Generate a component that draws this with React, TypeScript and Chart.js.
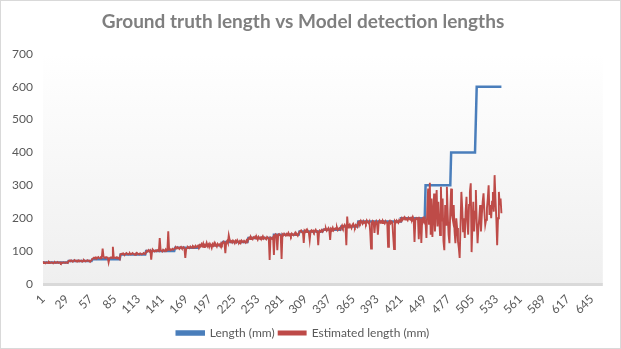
import React, { useEffect, useRef } from 'react';
import { Chart, registerables } from 'chart.js';

Chart.register(...registerables);

const chartTitle = 'Ground truth length vs Model detection lengths';
const seriesNames = ['Length (mm)', 'Estimated length (mm)'];

// Category axis: sample numbers 1..658
const categoryCount = 658;
const categories = Array.from({ length: categoryCount }, (_, i) => String(i + 1));
const xTickLabels = ['1', '29', '57', '85', '113', '141', '169', '197', '225', '253', '281', '309', '337', '365', '393', '421', '449', '477', '505', '533', '561', '589', '617', '645'];
const yTickValues = [0, 100, 200, 300, 400, 500, 600, 700];

// Ground-truth length: a step series, stored as (level, number of samples at that level)
const lengthLevels = [65, 70, 75, 90, 100, 110, 118, 128, 140, 150, 160, 165, 175, 190, 200, 300, 400, 600];
const lengthRunCounts = [30, 28, 33, 30, 34, 29, 27, 30, 30, 30, 28, 21, 20, 50, 29, 30, 30, 30];

// Estimated length per sample
const estimatedLength = [
  // 1-30
  64, 66, 65, 63, 66, 65, 64, 67, 65, 64, 66, 65, 63, 65, 66, 64, 65, 67, 64, 65, 66, 63, 65, 64, 66, 65, 64, 66, 65, 64,
  // 31-58
  70, 71, 69, 72, 70, 68, 71, 73, 70, 69, 71, 70, 72, 69, 70, 71, 68, 70, 73, 71, 69, 70, 72, 70, 71, 69, 70, 72,
  // 59-91
  76, 78, 80, 79, 81, 77, 80, 82, 79, 78, 81, 80, 108, 84, 80, 79, 82, 81, 80, 66, 78, 80, 81, 79, 113, 82, 80, 79, 81, 78, 80, 79, 76,
  // 92-121
  90, 92, 91, 93, 90, 89, 92, 94, 91, 90, 92, 93, 90, 91, 94, 92, 90, 89, 93, 95, 92, 91, 90, 93, 92, 90, 91, 94, 92, 91,
  // 122-155
  98, 101, 100, 103, 99, 102, 74, 100, 104, 101, 99, 102, 100, 103, 101, 100, 140, 103, 101, 99, 104, 102, 100, 105, 101, 103, 160, 104, 106, 103, 105, 107, 104, 106,
  // 156-184
  109, 111, 108, 112, 110, 107, 111, 113, 109, 110, 112, 108, 79, 106, 110, 113, 111, 109, 114, 112, 110, 115, 113, 111, 116, 112, 114, 117, 113,
  // 185-211
  118, 114, 121, 116, 123, 112, 119, 117, 125, 115, 120, 113, 122, 118, 110, 121, 117, 124, 116, 119, 114, 122, 118, 120, 115, 123, 119,
  // 212-241
  126, 129, 124, 94, 127, 131, 125, 148, 135, 128, 130, 126, 132, 129, 124, 131, 127, 133, 128, 126, 130, 125, 132, 129, 127, 131, 128, 126, 133, 129,
  // 242-271
  138, 141, 137, 143, 139, 136, 142, 140, 144, 138, 141, 135, 143, 139, 137, 142, 140, 145, 138, 141, 139, 136, 143, 140, 138, 73, 141, 139, 137, 142,
  // 272-301
  88, 148, 151, 147, 103, 150, 152, 149, 146, 76, 151, 148, 153, 150, 147, 152, 149, 155, 148, 151, 146, 153, 150, 148, 152, 156, 149, 151, 147, 153,
  // 302-329
  158, 161, 163, 157, 160, 125, 162, 159, 164, 158, 161, 156, 134, 160, 163, 159, 162, 157, 161, 165, 159, 160, 118, 158, 162, 160, 164, 159,
  // 330-350
  163, 167, 165, 169, 162, 166, 170, 164, 134, 168, 165, 171, 163, 167, 169, 166, 172, 164, 168, 170, 166,
  // 351-370
  173, 178, 171, 176, 180, 174, 118, 205, 172, 177, 181, 175, 170, 179, 183, 176, 172, 180, 178, 174,
  // 371-420
  188, 190, 185, 192, 187, 183, 191, 186, 189, 184,
  193, 188, 185, 190, 160, 108, 187, 192, 189, 155,
  186, 191, 184, 150, 189, 193, 187, 190, 185, 192,
  188, 184, 191, 187, 186, 113, 189, 192, 185, 190,
  188, 145, 106, 191, 187, 193, 189, 186, 194, 190,
  // 421-449
  197, 201, 195, 199, 203, 196, 200, 198, 194, 202,
  199, 196, 201, 197, 204, 198, 128, 195, 200, 197,
  203, 136, 199, 196, 125, 198, 201, 194, 200,
  // 450-479
  185, 140, 230, 290, 180, 308, 150, 260, 143, 210, 275, 160, 230, 286, 175, 250, 200, 149, 296, 190, 260, 130, 103, 240, 180, 296, 210, 150, 124, 225,
  // 480-509
  290, 210, 195, 240, 160, 124, 200, 170, 130, 110, 79, 180, 280, 230, 160, 200, 140, 220, 265, 190, 150, 240, 280, 306, 97, 180, 250, 160, 220, 286,
  // 510-539
  190, 124, 170, 200, 240, 160, 210, 250, 276, 220, 180, 195, 230, 260, 300, 210, 240, 200, 250, 280, 220, 331, 260, 200, 118, 200, 280, 240, 260, 215,
];

const lengthSeries: number[] = lengthLevels.flatMap((v, k) => Array(lengthRunCounts[k]).fill(v));

const FONT = 'Lato, "Open Sans", sans-serif';

const backgroundPlugin = {
  id: 'excelBackground',
  beforeDraw(chart: any) {
    const { ctx, chartArea: a, width, height } = chart;
    ctx.save();
    ctx.fillStyle = '#ffffff';
    ctx.fillRect(0, 0, width, height);
    const g = ctx.createLinearGradient(0, a.top, 0, a.bottom);
    g.addColorStop(0, '#ffffff');
    g.addColorStop(1, '#efefef');
    ctx.fillStyle = g;
    ctx.fillRect(a.left, a.top, a.right - a.left, a.bottom - a.top);
    ctx.strokeStyle = '#d9d9d9';
    ctx.lineWidth = 1;
    ctx.strokeRect(0.5, 0.5, width - 1, height - 1);
    ctx.fillStyle = '#d9d9d9';
    ctx.fillRect(a.left, a.bottom - 1, a.right - a.left, 3);
    ctx.restore();
  },
};

export default function App() {
  const canvasRef = useRef<HTMLCanvasElement | null>(null);

  useEffect(() => {
    document.body.style.margin = '0';
    const canvas = canvasRef.current;
    if (!canvas) return;
    const chart = new Chart(canvas, {
      type: 'line',
      data: {
        labels: categories,
        datasets: [
          {
            label: seriesNames[0],
            data: lengthSeries,
            borderColor: '#4A7EBB',
            backgroundColor: '#4A7EBB',
            borderWidth: 2.5,
            pointRadius: 0,
            tension: 0,
            order: 2,
          },
          {
            label: seriesNames[1],
            data: estimatedLength,
            borderColor: '#BE4B48',
            backgroundColor: '#BE4B48',
            borderWidth: 1.9,
            pointRadius: 0,
            tension: 0,
            order: 1,
          },
        ],
      },
      options: {
        animation: false,
        responsive: false,
        maintainAspectRatio: false,
        layout: { padding: { left: 0, right: 15, top: 0, bottom: 0 } },
        plugins: {
          title: {
            display: true,
            text: chartTitle,
            color: '#7f7f7f',
            font: { family: FONT, size: 19, weight: 'bold' },
            padding: { top: 10, bottom: 21 },
          },
          legend: {
            display: true,
            position: 'bottom',
            labels: {
              boxWidth: 27,
              boxHeight: 3,
              color: '#595959',
              font: { family: FONT, size: 12 },
              padding: 4,
              sort: (a: any, b: any) => a.datasetIndex - b.datasetIndex,
            },
          },
          tooltip: { enabled: false },
        },
        scales: {
          x: {
            type: 'category',
            grid: { display: false, drawTicks: false },
            border: { display: false },
            ticks: {
              autoSkip: false,
              maxRotation: 45,
              minRotation: 45,
              padding: 8,
              color: '#595959',
              font: { family: FONT, size: 12 },
              callback: (_v: any, idx: number) => (xTickLabels.includes(categories[idx]) ? categories[idx] : ''),
            },
            afterFit: (s: any) => {
              s.height = 39;
            },
          },
          y: {
            min: 0,
            max: 700,
            grid: { display: false, drawTicks: false },
            border: { display: false },
            afterBuildTicks: (s: any) => {
              s.ticks = yTickValues.map((v) => ({ value: v }));
            },
            ticks: {
              padding: 10,
              color: '#595959',
              font: { family: FONT, size: 12 },
            },
            afterFit: (s: any) => {
              s.width = 43;
            },
          },
        },
      },
      plugins: [backgroundPlugin],
    });
    return () => chart.destroy();
  }, []);

  return (
    <div style={{ width: 621, height: 349 }}>
      <canvas ref={canvasRef} width={621} height={349} style={{ display: 'block' }} />
    </div>
  );
}
